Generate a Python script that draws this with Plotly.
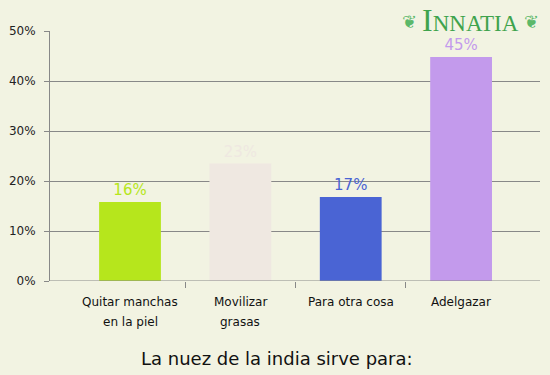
import plotly.graph_objects as go

categories = ["Quitar manchas<br>en la piel", "Movilizar<br>grasas", "Para otra cosa", "Adelgazar"]
values = [15.8, 23.5, 16.8, 44.8]
labels = ["16%", "23%", "17%", "45%"]
colors = ["#b6e61c", "#efe8e1", "#4a64d4", "#c39aec"]
yticks = [0, 10, 20, 30, 40, 50]
yticklabels = ["0%", "10%", "20%", "30%", "40%", "50%"]
xpos = list(range(len(categories)))

W, H = 550, 375
ML, MR, MT, MB = 50, 10, 31, 94
ph = H - MT - MB
pw = W - ML - MR

def py(pix):
    return (H - MB - pix) / ph

def px(pix):
    return (pix - ML) / pw

fig = go.Figure()
fig.add_trace(go.Bar(
    x=xpos, y=values, marker=dict(color=colors, line=dict(width=0)),
    width=0.56, text=labels, textposition="outside",
    textfont=dict(color=colors, size=15, family="DejaVu Sans"),
    cliponaxis=False, hoverinfo="skip",
))
fig.add_trace(go.Scatter(x=[0.5], y=[0], xaxis="x2", mode="markers",
                         marker=dict(opacity=0), hoverinfo="skip", showlegend=False))

annotations = []
for i, cat in enumerate(categories):
    for j, line in enumerate(cat.split("<br>")):
        annotations.append(dict(text=line, x=i, xref="x", y=py(302 + 20 * j), yref="paper",
                                showarrow=False, yanchor="middle",
                                font=dict(size=12, color="#111")))
annotations.append(dict(text="La nuez de la india sirve para:", x=px(277), xref="paper",
                        y=py(358), yref="paper", showarrow=False, yanchor="middle",
                        font=dict(size=18, color="#111")))
annotations.append(dict(text="<span style='font-size:32px'>I</span>NNATIA",
                        x=px(470), xref="paper", y=py(20), yref="paper",
                        showarrow=False, xanchor="center", yanchor="middle",
                        font=dict(size=23, color="#3fa34d", family="Liberation Serif")))
for xx in (409, 531):
    annotations.append(dict(text="❦", x=px(xx), xref="paper", y=py(22), yref="paper",
                            showarrow=False, xanchor="center", yanchor="middle",
                            font=dict(size=18, color="#5cb86a")))

fig.update_layout(
    width=W, height=H,
    paper_bgcolor="#f2f3e2", plot_bgcolor="#f2f3e2",
    margin=dict(l=ML, r=MR, t=MT, b=MB),
    showlegend=False,
    font=dict(family="DejaVu Sans", color="#222"),
    xaxis=dict(range=[-0.725, 3.715], tickvals=xpos, ticktext=[""] * len(xpos),
               showgrid=False, zeroline=False, showline=False, ticks=""),
    xaxis2=dict(range=[-0.725, 3.715], overlaying="x", tickvals=[0.5, 1.5, 2.5],
                ticktext=["", "", ""], ticks="outside", ticklen=6, tickcolor="#888",
                showgrid=False, zeroline=False, showline=False, side="bottom",
                anchor="y"),
    yaxis=dict(range=[0, 50], tickvals=yticks, ticktext=yticklabels,
               showgrid=True, gridcolor="#888", gridwidth=1,
               zeroline=False, showline=True, linecolor="#888", linewidth=1,
               ticks="outside", ticklen=5, tickcolor="#888", ticklabelstandoff=6,
               tickfont=dict(size=12, color="#222")),
    annotations=annotations,
)
fig.add_shape(type="line", xref="paper", yref="y", x0=0, x1=1, y0=0, y1=0,
              line=dict(color="#888", width=1))
fig.write_html("out.html", config={"displayModeBar": False},
               post_script="document.body.style.margin='0';")
